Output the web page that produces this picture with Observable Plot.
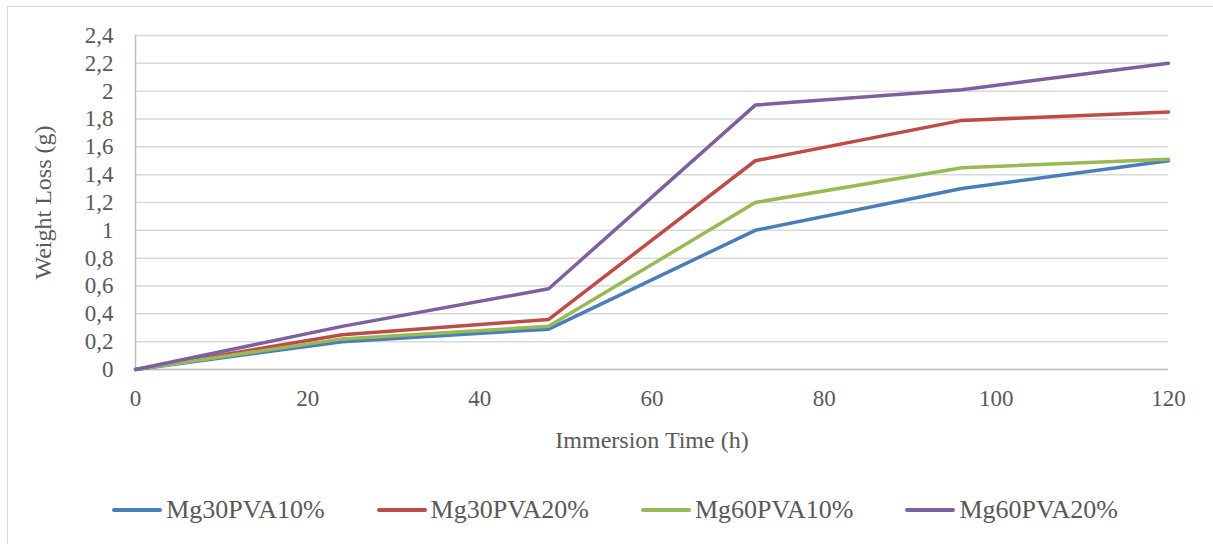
<!DOCTYPE html>
<html>
<head>
<meta charset="utf-8">
<script src="https://cdn.jsdelivr.net/npm/d3@7"></script>
<script src="https://cdn.jsdelivr.net/npm/@observablehq/plot@0.6"></script>
<style>
  html, body { margin: 0; padding: 0; background: #fff; width: 1213px; height: 544px; overflow: hidden; }
  #frame { position: absolute; left: 7px; top: 6px; width: 1220px; height: 560px; border: 1.5px solid #d9d9d9; box-sizing: border-box; }
  #chart { position: absolute; left: 0; top: 0; }
  #legend { position: absolute; top: 495px; left: 0; width: 1230px; display: flex; justify-content: center; gap: 52px;
            font-family: "Liberation Serif", Tinos, "Times New Roman", Times, "DejaVu Serif", serif; font-size: 26px; color: #595959; }
  .item { display: flex; align-items: center; }
  .sw { width: 50px; height: 4px; margin-right: 4px; border-radius: 2px; }
</style>
</head>
<body>
<div id="frame"></div>
<div id="chart"></div>
<div id="legend"></div>
<script>
const hours = [0, 24, 48, 72, 96, 120];
const seriesNames = ["Mg30PVA10%", "Mg30PVA20%", "Mg60PVA10%", "Mg60PVA20%"];
const mg30pva10 = [0, 0.20, 0.29, 1.00, 1.30, 1.50];
const mg30pva20 = [0, 0.25, 0.36, 1.50, 1.79, 1.85];
const mg60pva10 = [0, 0.22, 0.31, 1.20, 1.45, 1.51];
const mg60pva20 = [0, 0.31, 0.58, 1.90, 2.01, 2.20];
const seriesColors = ["#4a7ebb", "#be4b48", "#98b954", "#7d60a0"];
const xTicks = [0, 20, 40, 60, 80, 100, 120];
const yTicks = [0, 0.2, 0.4, 0.6, 0.8, 1, 1.2, 1.4, 1.6, 1.8, 2, 2.2, 2.4];

const seriesValues = [mg30pva10, mg30pva20, mg60pva10, mg60pva20];
const data = seriesNames.flatMap((name, i) => hours.map((h, j) => ({series: name, hour: h, loss: seriesValues[i][j]})));

const fmt = d => String(+d.toFixed(1)).replace(".", ",");
const serif = "'Liberation Serif', Tinos, 'Times New Roman', Times, 'DejaVu Serif', serif";

const chart = Plot.plot({
  width: 1213,
  height: 480,
  marginLeft: 135,
  marginRight: 45,
  marginTop: 35,
  marginBottom: 111,
  style: {fontFamily: serif, fontSize: "23px", color: "#595959", background: "transparent", overflow: "visible"},
  x: {domain: [0, 120]},
  y: {domain: [0, 2.4]},
  color: {domain: seriesNames, range: seriesColors},
  marks: [
    Plot.gridY(yTicks, {stroke: "#d9d9d9", strokeOpacity: 1, strokeWidth: 1.5}),
    Plot.ruleY([0], {stroke: "#bfbfbf", strokeWidth: 1.5}),
    Plot.ruleX([0], {stroke: "#bfbfbf", strokeWidth: 1.5}),
    Plot.axisX(xTicks, {tickSize: 0, tickPadding: 20, label: "Immersion Time (h)", labelAnchor: "center", labelArrow: "none", labelOffset: 78, fontSize: 23}),
    Plot.axisY(yTicks, {tickSize: 0, tickPadding: 22, tickFormat: fmt, label: "Weight Loss (g)", labelAnchor: "center", labelArrow: "none", labelOffset: 102, fontSize: 23}),
    Plot.line(data, {x: "hour", y: "loss", stroke: "series", strokeWidth: 3.5, strokeLinejoin: "round", strokeLinecap: "round"})
  ]
});
chart.setAttribute("font-family", serif);
chart.querySelectorAll("text, g").forEach(t => t.style.fontFamily = serif);
chart.querySelectorAll("text").forEach(t => { if (/Immersion|Weight/.test(t.textContent)) t.setAttribute("font-size", "24"); });
document.getElementById("chart").appendChild(chart);

const legend = document.getElementById("legend");
seriesNames.forEach((name, i) => {
  const item = document.createElement("div");
  item.className = "item";
  const sw = document.createElement("div");
  sw.className = "sw";
  sw.style.background = seriesColors[i];
  const lab = document.createElement("span");
  lab.textContent = name;
  item.appendChild(sw);
  item.appendChild(lab);
  legend.appendChild(item);
});
</script>
</body>
</html>
